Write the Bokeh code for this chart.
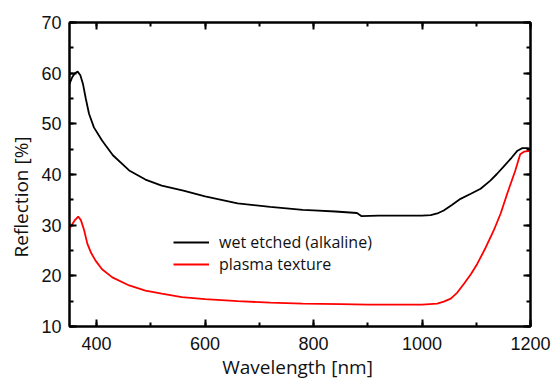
from bokeh.plotting import figure
from bokeh.models import (Range1d, SingleIntervalTicker, LinearAxis, Legend, LegendItem,
                          Title, CustomJSTickFormatter)
from bokeh.embed import file_html
from bokeh.resources import INLINE

# ---- data ----
wl_wet = [350, 355, 360, 365, 370, 375, 380, 386, 395, 410, 430, 460, 490, 520, 560,
          600, 660, 720, 780, 800, 840, 880, 888, 920, 960, 1000, 1016, 1030, 1040,
          1055, 1071, 1090, 1108, 1126, 1138, 1150, 1165, 1176, 1185, 1195, 1200]
refl_wet = [57.9, 59.2, 60.0, 60.3, 59.6, 57.8, 55.0, 52.0, 49.3, 46.7, 43.8, 40.8, 39.0, 37.8, 36.8,
            35.7, 34.3, 33.6, 33.0, 32.9, 32.7, 32.4, 31.8, 31.9, 31.9, 31.9, 32.0, 32.4, 32.9,
            34.0, 35.2, 36.2, 37.2, 38.8, 40.1, 41.5, 43.3, 44.7, 45.2, 45.2, 45.0]

wl_plasma = [350, 355, 360, 366, 371, 377, 383, 390, 398, 410, 429, 460, 490, 520, 557,
             600, 660, 720, 780, 850, 900, 950, 1000, 1028, 1040, 1053, 1065, 1077, 1090,
             1102, 1117, 1132, 1145, 1157, 1172, 1181, 1188, 1195, 1200]
refl_plasma = [29.3, 30.2, 31.0, 31.7, 31.0, 29.0, 26.3, 24.5, 23.0, 21.3, 19.7, 18.1, 17.1, 16.5, 15.8,
               15.4, 15.0, 14.7, 14.5, 14.4, 14.3, 14.3, 14.3, 14.5, 14.9, 15.5, 16.7, 18.4, 20.3,
               22.4, 25.5, 28.9, 32.3, 36.2, 40.8, 44.0, 44.5, 44.6, 44.6]

series_names = ["wet etched (alkaline)", "plasma texture"]
x_title = "Wavelength  [nm]"
y_title = "Reflection  [%]"

TICK_FONT = "Liberation Sans"
TEXT_FONT = "Open Sans"

p = figure(width=554, height=383, output_backend="svg", toolbar_location=None,
           x_range=Range1d(350, 1200), y_range=Range1d(10, 70),
           min_border_left=67, min_border_right=24, min_border_top=22, min_border_bottom=57,
           x_axis_label=x_title)
p.grid.visible = False
p.outline_line_color = "black"
p.outline_line_width = 2
p.background_fill_color = "white"
p.border_fill_color = "white"

p.xaxis.ticker = SingleIntervalTicker(interval=200, num_minor_ticks=2)
p.yaxis.ticker = SingleIntervalTicker(interval=10, num_minor_ticks=2)

def style_axis(ax, show_labels=True):
    ax.axis_line_width = 2
    ax.axis_line_color = "black"
    ax.major_tick_in = 7
    ax.major_tick_out = 0
    ax.minor_tick_in = 4
    ax.minor_tick_out = 0
    ax.major_tick_line_width = 2
    ax.minor_tick_line_width = 2
    ax.major_tick_line_color = "black"
    ax.minor_tick_line_color = "black"
    ax.major_label_text_font = TICK_FONT
    ax.major_label_text_font_size = "18px"
    ax.major_label_text_color = "#111111"
    if not show_labels:
        ax.formatter = CustomJSTickFormatter(code="return ''")
        ax.major_label_standoff = 0

for ax in p.xaxis:
    style_axis(ax)
    ax.major_label_standoff = 10
    ax.axis_label_text_font = TEXT_FONT
    ax.axis_label_text_font_size = "19px"
    ax.axis_label_text_font_style = "normal"
    ax.axis_label_text_color = "#111111"
    ax.axis_label_standoff = 1
for ax in p.yaxis:
    style_axis(ax)
    ax.major_label_standoff = 8

top_axis = LinearAxis(ticker=SingleIntervalTicker(interval=200, num_minor_ticks=2))
style_axis(top_axis, show_labels=False)
p.add_layout(top_axis, "above")
right_axis = LinearAxis(ticker=SingleIntervalTicker(interval=10, num_minor_ticks=2))
style_axis(right_axis, show_labels=False)
p.add_layout(right_axis, "right")

r_wet = p.line(wl_wet, refl_wet, line_color="black", line_width=1.8)
r_plasma = p.line(wl_plasma, refl_plasma, line_color="#ff0000", line_width=1.8)

def make_legend(label, renderer, loc):
    return Legend(items=[LegendItem(label=label, renderers=[renderer])],
                  location=loc, padding=0, margin=0, spacing=0,
                  glyph_width=36, glyph_height=20, label_height=20, label_standoff=10,
                  border_line_color=None, background_fill_alpha=0,
                  label_text_font=TEXT_FONT, label_text_font_size="16px",
                  label_text_color="#111111")

p.add_layout(make_legend(series_names[0], r_wet, (104, 73)), "center")
p.add_layout(make_legend(series_names[1], r_plasma, (104, 51)), "center")

ytitle = Title(text=y_title, align="left", offset=69, standoff=10,
               text_font=TEXT_FONT, text_font_size="19px", text_font_style="normal",
               text_color="#111111")
p.add_layout(ytitle, "left")

open("out.html", "w").write(file_html(p, INLINE))
